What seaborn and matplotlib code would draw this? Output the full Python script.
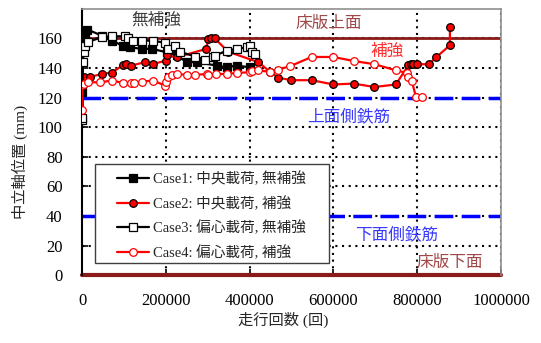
import matplotlib
matplotlib.use("Agg")
import matplotlib.pyplot as plt
from matplotlib.patches import Rectangle
import seaborn as sns
import pandas as pd

# Neutral-axis position vs. number of wheel passes
case1_x = [0, 3000, 7000, 13000, 47000, 71000, 98000, 115000, 142000, 166000,
           202000, 226000, 250000, 274000, 321000, 345000, 369000, 401000]
case1_y = [123.5, 160, 162, 166, 162, 158.6, 155, 154, 153, 153,
           150.7, 148.5, 144, 144, 141.7, 140.5, 141.7, 140.5]

case2_x = [0, 2000, 5000, 19000, 47000, 71000, 98500, 106000, 118000, 150000,
           170000, 200000, 202000, 226000, 297000, 301000, 309000, 317000,
           349000, 421000, 449000, 468000, 498000, 548000, 600000, 648000,
           698000, 749000, 779000, 785000, 791000, 799000, 828000, 846000,
           878000, 878000]
case2_y = [107, 131, 134, 134, 136, 137, 142, 142.8, 141.7, 144,
           142.8, 145, 148.5, 147.3, 153, 159.7, 160, 160,
           151, 144, 137.4, 133.6, 131.8, 131.8, 128.9, 129.5,
           127.2, 128.9, 141.9, 142.6, 142.6, 142.6, 142.6, 147.5,
           155.4, 168]

case3_x = [0, 1000, 2000, 4000, 6000, 15000, 47000, 71000, 103000, 110000,
           122000, 142000, 170000, 198000, 206000, 222000, 234000, 270000,
           293000, 313000, 317000, 345000, 369000, 393000, 401000, 405000,
           413000]
case3_y = [104.7, 106, 144, 151, 155, 157.6, 161, 161.5, 161.5, 160,
           158.6, 158.6, 158.6, 157, 153, 154.7, 151, 147.8,
           145.7, 147.3, 148.2, 151.8, 153, 154, 155, 151,
           149.5]

case4_x = [0, 1000, 5000, 15000, 43000, 71000, 98500, 118000, 123000, 142000,
           170000, 198000, 200000, 206000, 214000, 226000, 250000, 270000,
           298000, 301000, 320000, 345000, 369000, 401000, 405000, 421000,
           449000, 468000, 496000, 548000, 600000, 648000, 698000, 749000,
           775000, 779000, 787000, 797000, 811000]
case4_y = [111.5, 128.6, 129.5, 130.4, 130.4, 131.5, 130, 129.7, 130, 130.9,
           131.5, 128.2, 130.4, 133.8, 135.4, 136, 135.4, 135.4,
           136, 135, 136, 136, 136.7, 137.2, 138, 138.5,
           137.4, 139, 141.2, 147.5, 147.5, 144.8, 142.6, 138.5,
           136.7, 134, 131.3, 120.5, 120.5]

case_labels = ["Case1: 中央載荷, 無補強", "Case2: 中央載荷, 補強",
               "Case3: 偏心載荷, 無補強", "Case4: 偏心載荷, 補強"]

slab_top, slab_bottom = 160, 0
rebar_top, rebar_bottom = 120, 40

x_ticks = [0, 200000, 400000, 600000, 800000, 1000000]
y_ticks = list(range(0, 161, 20))

sns.set_theme(style="white")
plt.rcParams["font.family"] = ["Liberation Serif", "Noto Sans CJK JP"]
plt.rcParams["axes.unicode_minus"] = False

fig = plt.figure(figsize=(5.41, 3.43), dpi=100)
ax = fig.add_axes([0.1516, 0.198, 0.7745, 0.776])

# dotted grid
for yv in y_ticks[1:]:
    ax.axhline(yv, color="black", lw=1.5, ls=(0, (1, 2.2)), zorder=1)
for xv in x_ticks[1:]:
    ax.axvline(xv, color="black", lw=1.5, ls=(0, (1, 2.2)), zorder=1)

# slab surfaces and rebar levels
slab_color = "#8b1a1a"
ax.axhline(slab_top, color=slab_color, lw=2, zorder=2)
ax.axhline(slab_bottom, color=slab_color, lw=3, zorder=2, clip_on=False)
for yv in (rebar_top, rebar_bottom):
    ax.axhline(yv, color="#0000ff", lw=2.5, ls=(0, (5.4, 2.4)), zorder=2)

styles = [
    dict(color="black", marker="s", mfc="black", mec="black"),
    dict(color="red", marker="o", mfc="red", mec="black"),
    dict(color="black", marker="s", mfc="white", mec="black"),
    dict(color="red", marker="o", mfc="white", mec="red"),
]
series = [(case1_x, case1_y), (case2_x, case2_y),
          (case3_x, case3_y), (case4_x, case4_y)]

for (xs, ys), lab, st in zip(series, case_labels, styles):
    df = pd.DataFrame({"x": xs, "y": ys})
    sns.lineplot(data=df, x="x", y="y", ax=ax, sort=False, estimator=None,
                 color=st["color"], lw=1.6, marker=st["marker"], markersize=5.5,
                 markerfacecolor=st["mfc"], markeredgecolor=st["mec"],
                 markeredgewidth=0.9, label=lab, zorder=4)

ax.set_xlim(0, 1000000)
ax.set_ylim(0, 180)
ax.set_xticks(x_ticks)
ax.set_yticks(y_ticks)
ax.set_xticklabels([str(v) for v in x_ticks])
ax.tick_params(axis="both", direction="in", length=4, width=1.2,
               colors="black", labelsize=12)
ax.tick_params(axis="y", left=True, pad=14)
ax.tick_params(axis="x", bottom=True, pad=13)

for side in ("top", "right"):
    ax.spines[side].set_color("#909090")
    ax.spines[side].set_linewidth(1.2)
ax.spines["left"].set_color("black")
ax.spines["left"].set_linewidth(1.5)
ax.spines["bottom"].set_visible(False)

ax.set_xlabel("走行回数 (回)", fontsize=11)
ax.set_ylabel("中立軸位置 (mm)", fontsize=11)
ax.xaxis.set_label_coords(0.48, -0.138)
ax.yaxis.set_label_coords(-0.13, 0.425)

# annotations
ax.text(177000, 172, "無補強", color="#404040", fontsize=12, ha="center", va="center")
ax.text(590000, 170, "床版上面", color="#a04848", fontsize=12, ha="center", va="center")
ax.text(728000, 151, "補強", color="#ff3030", fontsize=12, ha="center", va="center")
ax.text(636000, 107, "上面側鉄筋", color="#3a3aff", fontsize=12, ha="center", va="center")
ax.text(750000, 27, "下面側鉄筋", color="#3a3aff", fontsize=12, ha="center", va="center")
ax.text(878000, 8, "床版下面", color="#a04848", fontsize=12, ha="center", va="center")

# legend box with wide side margins
ax.add_patch(Rectangle((0.031, 0.045), 0.5585, 0.372, transform=ax.transAxes,
                       facecolor="white", edgecolor="#404040", lw=1.0, zorder=5))
leg = ax.legend(loc="upper left", bbox_to_anchor=(0.083, 0.39), borderaxespad=0,
                fontsize=10.5, frameon=False, handlelength=2.2, labelspacing=0.7,
                borderpad=0, handletextpad=0.3)
leg.set_zorder(6)

fig.savefig("out.png", dpi=100)
